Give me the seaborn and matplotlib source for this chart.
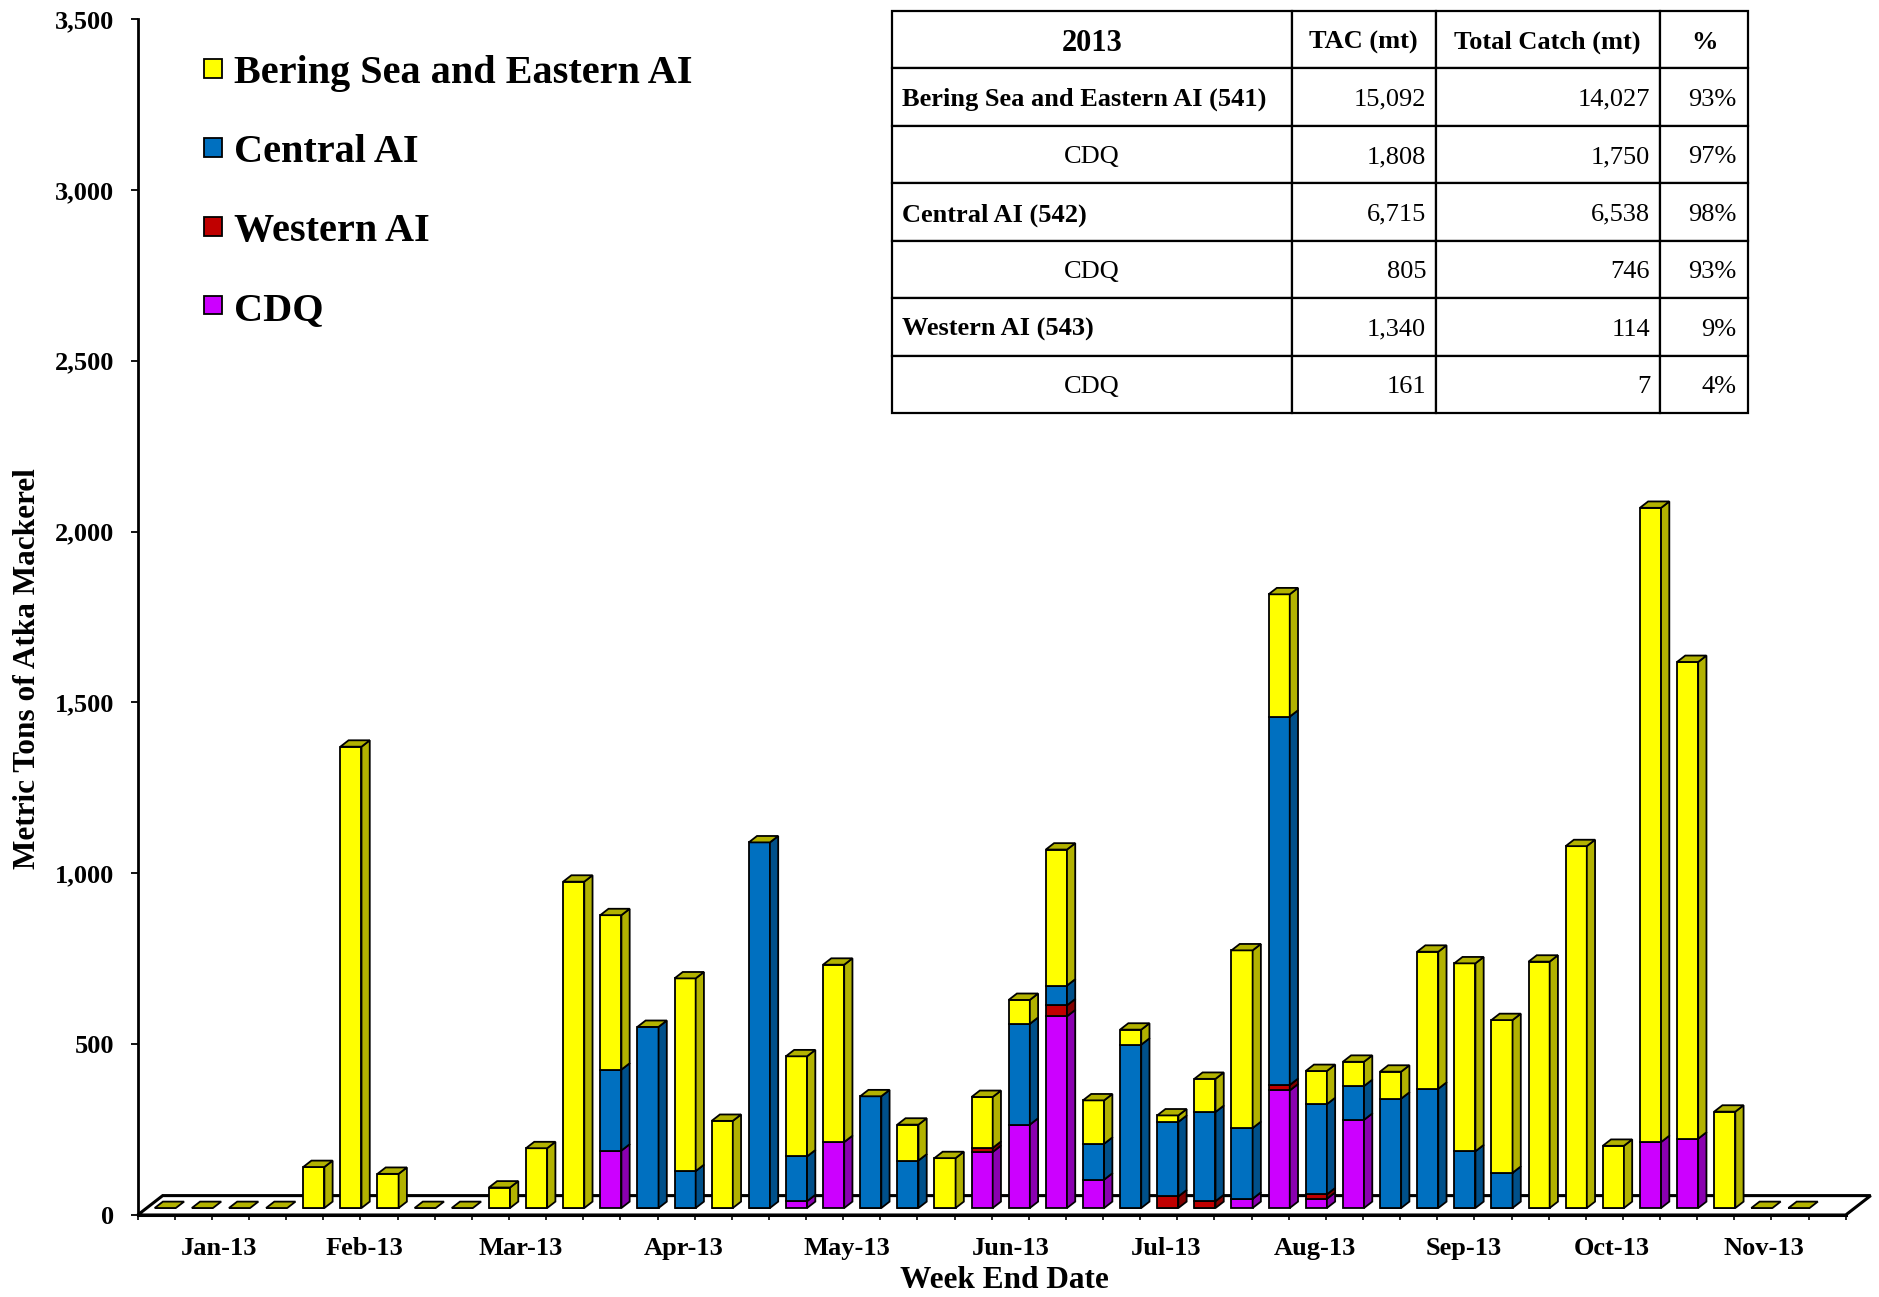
import matplotlib
matplotlib.use("Agg")
import matplotlib.pyplot as plt
from matplotlib.patches import Polygon, Patch
from matplotlib.table import Table
import numpy as np
import seaborn as sns

# ---- data -----------------------------------------------------------------
months = ["Jan-13", "Feb-13", "Mar-13", "Apr-13", "May-13", "Jun-13",
          "Jul-13", "Aug-13", "Sep-13", "Oct-13", "Nov-13"]
# where each month label sits along the week axis (in week slots)
month_pos = [2.2, 6.1, 10.3, 14.7, 19.1, 23.5, 27.7, 31.7, 35.7, 39.7, 43.8]

nan = np.nan
bs_eai = [0, 0, 0, 0, 120, 1350, 100, 0, 0, 60, 175, 955, 452, 0, 564, 255,
          0, 293, 519, 0, 105, 146, 149, 70, 398, 127, 44, 19, 97, 520,
          358, 97, 71, 79, 401, 550, 447, 721, 1059, 182, 1856, 1395, 282,
          0, 0, nan]
central = [0, 0, 0, 0, 0, 0, 0, 0, 0, 0, 0, 0, 237, 530, 108, 0,
           1070, 131, 0, 327, 139, 0, 0, 295, 58, 105, 478, 218, 261, 207,
           1078, 264, 99, 320, 349, 166, 103, 0, 0, 0, 0, 0, 0,
           0, 0, nan]
western = [0, 0, 0, 0, 0, 0, 0, 0, 0, 0, 0, 0, 0, 0, 0, 0,
           0, 0, 0, 0, 0, 0, 12, 0, 32, 0, 0, 34, 20, 0,
           16, 13, 0, 0, 0, 0, 0, 0, 0, 0, 0, 0, 0,
           0, 0, nan]
cdq = [0, 0, 0, 0, 0, 0, 0, 0, 0, 0, 0, 0, 168, 0, 0, 0,
       0, 20, 193, 0, 0, 0, 164, 244, 561, 83, 0, 0, 0, 27,
       344, 27, 258, 0, 0, 0, 0, 0, 0, 0, 193, 203, 0,
       0, 0, nan]

legend_names = ["Bering Sea and Eastern AI", "Central AI", "Western AI", "CDQ"]

table_title = "2013"
table_cols = ["TAC (mt)", "Total Catch (mt)", "%"]
table_rows = ["Bering Sea and Eastern AI (541)", "CDQ", "Central AI (542)",
              "CDQ", "Western AI (543)", "CDQ"]
tac = [15092, 1808, 6715, 805, 1340, 161]
catch = [14027, 1750, 6538, 746, 114, 7]
pct = ["93%", "97%", "98%", "93%", "9%", "4%"]

# ---- style ----------------------------------------------------------------
sns.set_theme(style="white")
plt.rcParams["font.family"] = ["Liberation Serif", "DejaVu Serif"]
plt.rcParams["text.color"] = "black"
plt.rcParams["axes.labelcolor"] = "black"
plt.rcParams["xtick.color"] = "black"
plt.rcParams["ytick.color"] = "black"

front = {"bs": "#FFFF00", "cen": "#0070C0", "wes": "#C00000", "cdq": "#CC00FF"}
shade = {"bs": "#B2B200", "cen": "#00508A", "wes": "#820000", "cdq": "#8A00B0"}

W, H = 1879, 1297
fig = plt.figure(figsize=(W / 100, H / 100), dpi=100)

# axes frame = front edge of the 3-D floor
x0, x1 = 137.7, 1845.7
y0, y1 = 1215, 19
ax = fig.add_axes([x0 / W, 1 - y0 / H, (x1 - x0) / W, (y0 - y1) / H])
n_cat = len(bs_eai)
ax.set_xlim(0, n_cat)
ax.set_ylim(0, 3500)
ax.set_facecolor("none")

px_cat = (x1 - x0) / n_cat
px_val = (y0 - y1) / 3500
floor_dx = 25 / px_cat
floor_dy = 19.4 / px_val
fdx, fdy = 0.36 * floor_dx, 0.36 * floor_dy   # bar front plane
bdx, bdy = 0.33 * floor_dx, 0.33 * floor_dy   # bar depth
bw = 0.57
lw = 1.3

floor = Polygon([(0, 0), (n_cat, 0), (n_cat + floor_dx, floor_dy),
                 (floor_dx, floor_dy)], closed=True, facecolor="white",
                edgecolor="black", lw=2.2, clip_on=False, zorder=1)
ax.add_patch(floor)

idx = np.arange(n_cat)
valid = ~np.isnan(np.array(bs_eai, dtype=float))
xc = idx[valid] + 0.5 + fdx
bottom = np.full(valid.sum(), fdy)

stack = [("cdq", cdq), ("wes", western), ("cen", central), ("bs", bs_eai)]
for key, vals in stack:
    h = np.array(vals, dtype=float)[valid]
    ax.bar(xc, h, width=bw, bottom=bottom, color=front[key],
           edgecolor="black", lw=lw, zorder=3)
    for x, b, v in zip(xc, bottom, h):
        if v <= 0:
            continue
        xr = x + bw / 2
        side = Polygon([(xr, b), (xr + bdx, b + bdy), (xr + bdx, b + v + bdy),
                        (xr, b + v)], closed=True, facecolor=shade[key],
                       edgecolor="black", lw=lw, zorder=3)
        ax.add_patch(side)
    bottom = bottom + h

for x, top in zip(xc, bottom):
    xl, xr = x - bw / 2, x + bw / 2
    lid = Polygon([(xl, top), (xr, top), (xr + bdx, top + bdy),
                   (xl + bdx, top + bdy)], closed=True, facecolor=shade["bs"],
                  edgecolor="black", lw=lw, zorder=4)
    ax.add_patch(lid)

# axes
for s in ["top", "right"]:
    ax.spines[s].set_visible(False)
ax.spines["left"].set_linewidth(2)
ax.spines["bottom"].set_linewidth(2.2)
ax.spines["left"].set_color("black")
ax.spines["bottom"].set_color("black")

ax.set_yticks(np.arange(0, 3501, 500))
ax.set_yticklabels([f"{v:,}" for v in range(0, 3501, 500)],
                   fontsize=19, fontweight="bold")
ax.tick_params(axis="y", left=True, direction="out", length=5, width=1.3,
               pad=12, colors="black")

ax.set_xticks(np.arange(0, n_cat + 1))
ax.set_xticklabels([])
ax.set_xticks(month_pos, minor=True)
ax.set_xticklabels(months, minor=True, fontsize=19, fontweight="bold")
ax.tick_params(axis="x", which="major", bottom=True, direction="out",
               length=3.5, width=1.2, colors="black")
ax.tick_params(axis="x", which="minor", bottom=True, length=0, pad=16)
ax.grid(False)

fig.text(1004 / W, 1 - 1280 / H, "Week End Date", ha="center", va="center",
         fontsize=22.5, fontweight="bold")
fig.text(28 / W, 1 - 669 / H, "Metric Tons of Atka Mackerel", ha="center",
         va="center", rotation=90, fontsize=22.5, fontweight="bold")

# legend
keys = ["bs", "cen", "wes", "cdq"]
handles = [Patch(facecolor=front[k], edgecolor="black", lw=1.3) for k in keys]
fig.legend(handles, legend_names, loc="upper left",
           bbox_to_anchor=(204 / W, 1 - 55 / H), frameon=False,
           prop={"size": 29, "weight": "bold"}, handlelength=0.45,
           handleheight=0.33, handletextpad=0.3, labelspacing=1.04,
           borderpad=0, borderaxespad=0, labelcolor="black")

# table
tl, tr, tt, tb = 891.6, 1748.5, 10.8, 413.4
tax = fig.add_axes([tl / W, 1 - tb / H, (tr - tl) / W, (tb - tt) / H])
tax.set_axis_off()
col_px = [400.2, 143.9, 224.1, 88.7]
col_w = [c / sum(col_px) for c in col_px]
pads = [0.025, 0.067, 0.043, 0.135]
n_rows = len(table_rows) + 1
row_h = 1 / n_rows
tab = Table(tax, bbox=[0, 0, 1, 1])

header = [table_title] + table_cols
for j, txt in enumerate(header):
    c = tab.add_cell(0, j, col_w[j], row_h, text=txt, loc="center",
                     facecolor="white", edgecolor="black")
    c.get_text().set_fontweight("bold")
    c.get_text().set_fontsize(22 if j == 0 else 19)

for i, name in enumerate(table_rows):
    cells = [name, f"{tac[i]:,}", f"{catch[i]:,}", pct[i]]
    for j, txt in enumerate(cells):
        if j == 0:
            loc = "center" if name == "CDQ" else "left"
        else:
            loc = "right"
        c = tab.add_cell(i + 1, j, col_w[j], row_h, text=txt, loc=loc,
                         facecolor="white", edgecolor="black")
        c.PAD = pads[j]
        c.get_text().set_fontsize(19)
        if j == 0 and name != "CDQ":
            c.get_text().set_fontweight("bold")

tab.auto_set_font_size(False)
for c in tab.get_celld().values():
    c.set_linewidth(1.6)
    c.get_text().set_color("black")
    c.get_text().set_va("center_baseline")
tax.add_table(tab)

fig.savefig("out.png", dpi=100, facecolor="white")
